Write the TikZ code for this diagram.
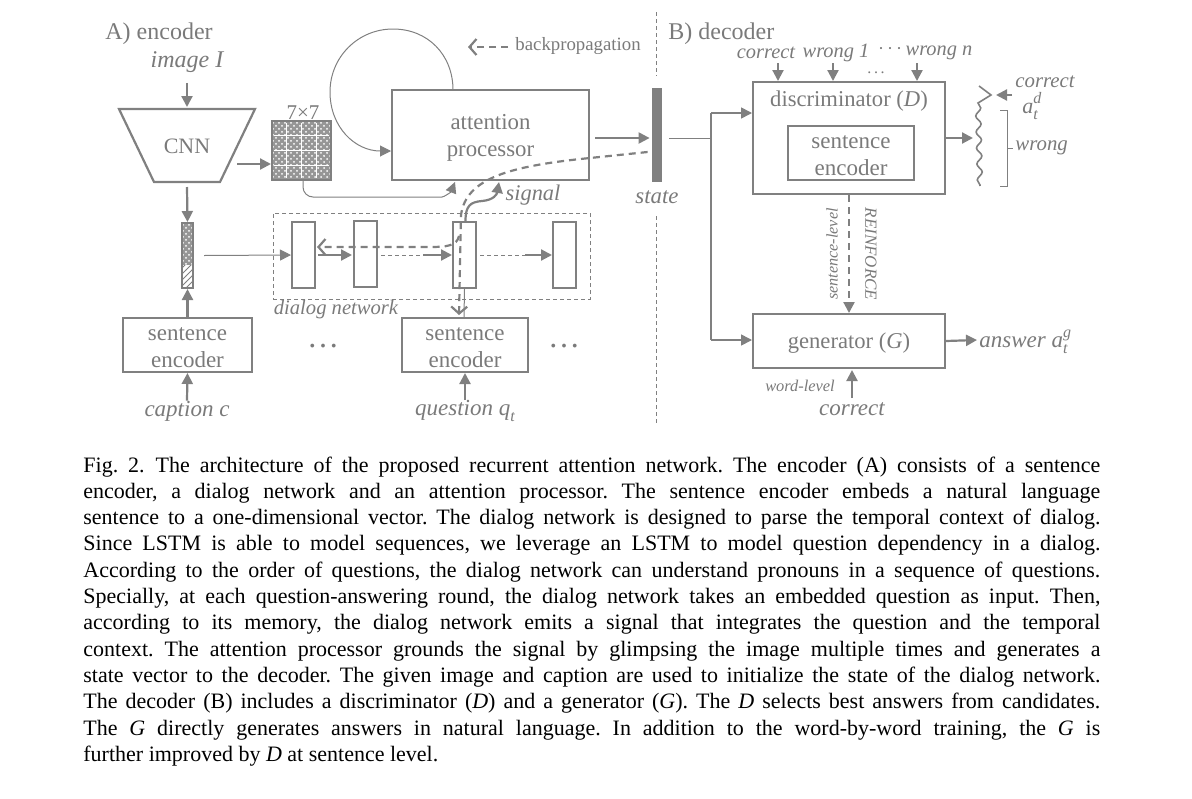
\documentclass[tikz,border=0pt]{standalone}
\usepackage{fontspec}
\setmainfont{Liberation Serif}
\usetikzlibrary{arrows.meta,patterns,decorations.pathmorphing,calc}
\definecolor{dg}{RGB}{122,122,122}
\definecolor{lg}{RGB}{128,128,128}
\definecolor{chk}{RGB}{150,150,150}
\newcommand\fsz[1]{\fontsize{#1}{#1}\selectfont}
\newcommand\fszb[2]{\fontsize{#1}{#2}\selectfont}
\newcommand\subsup[3]{\textit{#1}\rlap{\raisebox{0.42em}{\fsz{8}\itshape #3}}\raisebox{-0.28em}{\fsz{8}\itshape #2}}
\newcommand\cdt{\textperiodcentered}
\begin{document}
\begin{tikzpicture}[x=0.5pt,y=-0.5pt,
  lab/.style={text=dg,inner sep=0pt},
  box/.style={draw=lg,line width=1pt,inner sep=0pt,text=dg},
  lstm/.style={draw=lg,line width=1pt,inner sep=0pt,minimum width=11.5pt,minimum height=33pt},
  tri/.style={-{Triangle[length=5.5pt,width=5.5pt]}},
  ob/.style={-{Straight Barb[length=3.5pt,width=8pt]}},
  thn/.style={line width=0.5pt,draw=lg},
  mid/.style={line width=0.8pt,draw=lg},
  thk/.style={line width=1.1pt,draw=lg},
  bp/.style={line width=1.1pt,draw=lg,dash pattern=on 3.5pt off 2.5pt},
  tdash/.style={line width=0.5pt,draw=lg,dash pattern=on 2pt off 1.5pt},
  two/.style={lab,align=center,font=\fszb{11.5}{13.5}}
]
\useasboundingbox (0,0) rectangle (1192,798);

% ---------- titles ----------
\node[lab,anchor=west,font=\fsz{12}] (ta) at (105,34) {A) encoder};
\node[lab,anchor=west,font=\fsz{12}] (tb) at (668,34) {B) decoder};
\node[lab,font=\fsz{12}\itshape] (img) at (187,62) {image I};

% ---------- CNN ----------
\draw[thk] (119,109) -- (255,109) -- (220,182) -- (154,182) -- cycle;
\node[lab,font=\fsz{11}] (cnn) at (187,146) {CNN};
\coordinate (cnnT) at (187,107);
\coordinate (cnnB) at (187,187);
\coordinate (cnnR) at (237,164);

% 7x7 grid
\fill[chk] (272,121) rectangle (331,180);
\fill[pattern=crosshatch dots,pattern color=white] (272,121) rectangle (331,180);
\foreach \t in {1,2,3}{
  \draw[white,line width=0.5pt] (274,121+14.75*\t) -- (329,121+14.75*\t);
  \draw[white,line width=0.5pt] (272+14.75*\t,123) -- (272+14.75*\t,178);
}
\node[draw=lg,line width=1pt,minimum width=29.5pt,minimum height=29.5pt,inner sep=0pt] (grid) at (301.5,150.5) {};
\node[lab,font=\fsz{10.5}] (g77) at (303,113) {7×7};

% vector
\fill[chk] (182,223) rectangle (193,265);
\fill[pattern=crosshatch dots,pattern color=white] (182,223) rectangle (193,265);
\fill[pattern=north east lines,pattern color=lg] (182,265) rectangle (193,288);
\node[draw=lg,line width=1pt,minimum width=5.5pt,minimum height=32.5pt,inner sep=0pt] (vec) at (187.5,255.5) {};

% sentence encoders
\node[box,minimum width=64.5pt,minimum height=27pt,label={[two,yshift=-1.5pt]center:sentence\\encoder}] (se1) at (187.5,345) {};
\node[box,minimum width=63pt,minimum height=27pt,label={[two,yshift=-1.5pt]center:sentence\\encoder}] (se2) at (465,345) {};
\node[lab,font=\fsz{11.5}\itshape] (cap) at (187,411) {caption c};
\node[lab,font=\fsz{11.5}\itshape] (que) at (465,411) {question \textit{q}\raisebox{-0.25em}{\fsz{8}\itshape t}};
\node[lab,font=\fsz{16}] (d1) at (323,346) {\ldots};
\node[lab,font=\fsz{16}] (d2) at (564,346) {\ldots};

% dialog network
\node[tdash,minimum width=158.5pt,minimum height=43pt,inner sep=0pt] (dn) at (431.5,256) {};
\node[lab,font=\fsz{10.3}\itshape] (dnl) at (336,310) {dialog network};
\node[lstm] (l1) at (303.5,255) {};
\node[lstm] (l2) at (365.5,254) {};
\node[lstm] (l3) at (464.5,255) {};
\node[lstm] (l4) at (564.5,255) {};

% attention processor
\node[box,minimum width=98.5pt,minimum height=45pt,
  label={[lab,align=center,font=\fszb{11.4}{13.5},yshift=-1.5pt]center:attention\\processor}] (att) at (490.5,135) {};
\node[fill=lg,minimum width=5pt,minimum height=47pt,inner sep=0pt] (state) at (657,135) {};
\node[lab,font=\fsz{11.4}\itshape] (stl) at (657,197) {state};
\node[lab,font=\fsz{11.2}\itshape] (sig) at (533,195) {signal};

% backprop legend
\coordinate (bpa) at (468,47);
\coordinate (bpb) at (508,47);
\node[lab,anchor=west,font=\fsz{9.4}] (bpl) at (515,46) {backpropagation};
\draw[bp,ob] (bpb) -- (bpa);

% divider
\coordinate (dv1) at (656,12); \coordinate (dv2) at (656,76);
\coordinate (dv3) at (656,216); \coordinate (dv4) at (656,424);
\draw[tdash] (dv1) -- (dv2);
\draw[tdash] (dv3) -- (dv4);

% ---------- encoder connectors ----------
\draw[thk,tri] ($(img.south)+(0,10)$) -- (cnnT);
\draw[thk,tri] (cnnR) -- (grid.west |- cnnR);
\draw[thk,tri] (cnnB) -- (vec.north);
\draw[thk,tri] (se1.north) -- (vec.south);
\draw[thk,tri] (cap.north) -- (se1.south);
\draw[thk,tri] (que.north) -- (se2.south);
\draw[thn,tri] ($(vec.east)+(10,0)$) -- (l1.west);
\draw[thk,tri] ($(l1.east)+(2,0)$) -- ($(l2.west)+(-1,1)$);
\draw[tdash] ($(l2.east)+(3,1)$) -- (423,255);
\draw[thk,tri] (423,255) -- (l3.west);
\draw[tdash] ($(l3.east)+(3,0)$) -- (525,255);
\draw[thk,tri] (525,255) -- (l4.west);
\draw[thn] ($(l3.south)+(0,0)$) -- ($(se2.north)+(-1,0)$);
% self loop
\draw[thn,tri] (453,90) .. controls (453,55) and (428,29) .. (393,29)
   .. controls (358,29) and (330,57) .. (330,92)
   .. controls (330,127) and (355,151) .. ($(att.west)+(0,16)$);
% grid to attention
\draw[thn,tri,rounded corners=5pt] ($(grid.south)+(1.5,0)$) |- (432,197) .. controls (444,197) and (451,192) .. (455,182);
% signal
\draw[thk,tri] ($(l3.north)+(1,0)$) .. controls (465.5,206) and (470,202) .. (482,201)
   .. controls (494,200) and (497,194) .. (499,182);
% attention to state
\draw[thk,tri] ($(att.east)+(5,3)$) -- ($(state.west)+(-2,3)$);
% backpropagation path
\draw[bp,ob] ($(state.west)+(-4,17)$) -- (590,158) .. controls (510,166) and (466,178) .. (461,215) -- ($(se2.north)+(-6,-2)$);
\draw[bp,ob] (459,236) .. controls (457,246) and (446,247) .. (430,247) -- ($(l1.east)+(1,-8)$);

% ---------- decoder ----------
\node[box,minimum width=96pt,minimum height=56pt] (disc) at (849,138) {};
\node[lab,font=\fsz{11.3}] (discl) at (849,101) {discriminator (\textit{D})};
\node[box,minimum width=63pt,minimum height=27pt,label={[two,yshift=-1.2pt]center:sentence\\encoder}] (dse) at (851,153) {};
\node[box,minimum width=96pt,minimum height=27pt,label={[lab,font=\fsz{11.3},yshift=-0.8pt]center:generator (\textit{G})}] (gen) at (849,341) {};

\node[lab,font=\fsz{10.2}\itshape] (ic) at (766,53) {correct};
\node[lab,font=\fsz{10.2}\itshape] (iw1) at (836,53) {wrong 1};
\node[lab,font=\fsz{9}] (idots) at (890,51) {\cdt\,\cdt\,\cdt};
\node[lab,font=\fsz{10.2}\itshape] (iwn) at (939,53) {wrong n};
\node[lab,font=\fsz{8}] (adots) at (876,73) {.\,.\,.};
\draw[thk,tri] (778,63) -- (778,81);
\draw[thk,tri] (833,63) -- (833,81);
\draw[thk,tri] (917,63) -- (917,81);

% state to decoder
\coordinate (sp) at (711,138);
\coordinate (sd) at (711,113);
\coordinate (sg) at (711,340);
\draw[thn] ($(state.east)+(7,3)$) -- (sp);
\draw[mid] (sd) -- (sg);
\draw[mid,tri] (sd) -- (disc.west |- sd);
\draw[mid,tri] (sg) -- (gen.west |- sg);

% discriminator output
\draw[thk,tri] (disc.east) -- (973,138);
\draw[mid] (979,86) -- (991,95) -- (978,103)
   decorate[decoration={snake,amplitude=1.3pt,segment length=8pt}] {-- (980,186)};
\draw[thk,tri] (1012,95) -- (996,95);
\node[lab,font=\fsz{10.4}\itshape] (oc) at (1045,82) {correct};
\node[lab,font=\fsz{11}] (oad) at (1030,106) {\subsup{a}{t}{d}};
\draw[thn] (1000,110) -- (1007,110) -- (1007,186) -- (1000,186);
\draw[thn] (1007,148) -- (1013,148);
\node[lab,font=\fsz{10.4}\itshape,anchor=west] (ow) at (1015,148) {wrong};

% REINFORCE
\draw[bp,tri] (disc.south) -- (gen.north);
\node[lab,font=\fsz{8.1}\itshape,rotate=90] (sl) at (832,254) {sentence-level};
\node[lab,font=\fsz{8.5}\itshape,rotate=-90] (rf) at (871,254) {REINFORCE};

% generator output
\draw[thk,tri] (gen.east) -- (977,340);
\node[lab,font=\fsz{11.5}\itshape,anchor=west] (ans) at (979,342) {answer \subsup{a}{t}{g}};
\draw[thk,tri] (852,398) -- (852,370);
\node[lab,font=\fsz{11.5}\itshape] (gc) at (852,409) {correct};
\node[lab,font=\fsz{8.2}\itshape] (wl) at (800,386) {word-level};

% ---------- caption ----------
\begin{scope}[every node/.style={anchor=base west,inner sep=0pt,font=\fsz{11}\frenchspacing}]
\node at (83,472) {\makebox[508.5pt][s]{Fig.\ 2.\hspace{0.5em}The architecture of the proposed recurrent attention network. The encoder (A) consists of a sentence}};
\node at (83,498.3) {\makebox[508.5pt][s]{encoder, a dialog network and an attention processor. The sentence encoder embeds a natural language}};
\node at (83,524.6) {\makebox[508.5pt][s]{sentence to a one-dimensional vector. The dialog network is designed to parse the temporal context of dialog.}};
\node at (83,550.9) {\makebox[508.5pt][s]{Since LSTM is able to model sequences, we leverage an LSTM to model question dependency in a dialog.}};
\node at (83,577.2) {\makebox[508.5pt][s]{According to the order of questions, the dialog network can understand pronouns in a sequence of questions.}};
\node at (83,603.5) {\makebox[508.5pt][s]{Specially, at each question-answering round, the dialog network takes an embedded question as input. Then,}};
\node at (83,629.8) {\makebox[508.5pt][s]{according to its memory, the dialog network emits a signal that integrates the question and the temporal}};
\node at (83,656.1) {\makebox[508.5pt][s]{context. The attention processor grounds the signal by glimpsing the image multiple times and generates a}};
\node at (83,682.4) {\makebox[508.5pt][s]{state vector to the decoder. The given image and caption are used to initialize the state of the dialog network.}};
\node at (83,708.7) {\makebox[508.5pt][s]{The decoder (B) includes a discriminator (\textit{D}) and a generator (\textit{G}). The \textit{D} selects best answers from candidates.}};
\node at (83,735.0) {\makebox[508.5pt][s]{The \textit{G} directly generates answers in natural language. In addition to the word-by-word training, the \textit{G} is}};
\node at (83,761.3) {further improved by \textit{D} at sentence level.};
\end{scope}
\end{tikzpicture}
\end{document}
